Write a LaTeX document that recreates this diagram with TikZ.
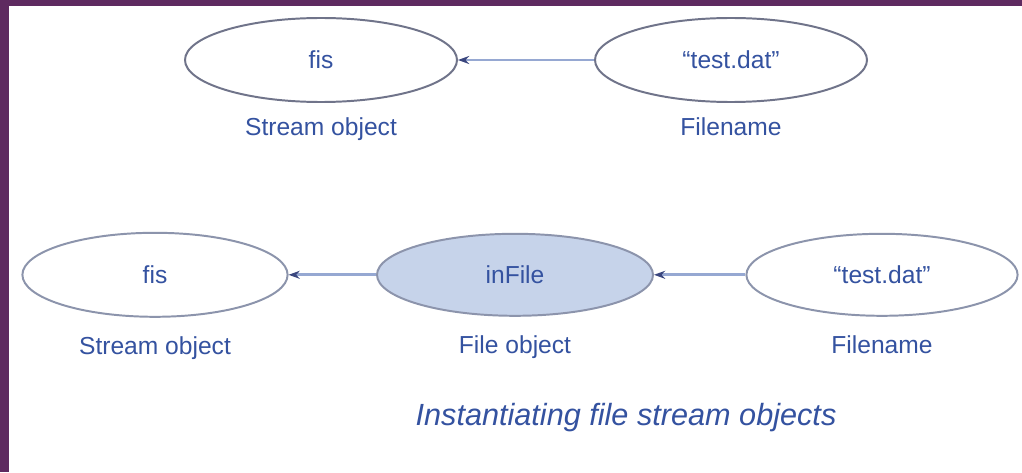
\documentclass[tikz,border=0pt]{standalone}
\usepackage{fontspec}
\setmainfont{Liberation Sans}
\usetikzlibrary{shapes.geometric, arrows.meta, positioning}
\definecolor{framepurple}{RGB}{94, 42, 96}
\definecolor{textblue}{RGB}{52, 82, 160}
\definecolor{rimgray}{RGB}{112, 116, 138}
\definecolor{rimlight}{RGB}{140, 148, 172}
\definecolor{objfill}{RGB}{198, 211, 234}
\definecolor{linkblue}{RGB}{150, 168, 210}
\definecolor{tipblue}{RGB}{58, 70, 126}

\begin{document}
\begin{tikzpicture}[
            obj/.style={ellipse, draw=rimgray, line width=1.4pt, minimum width=6.8cm, minimum height=2.1cm, inner sep=0pt, text=textblue, font=\fontsize{17.5}{21}\selectfont},
            role/.style={text=textblue, font=\fontsize{17.5}{21}\selectfont},
            link/.style={draw=linkblue, line width=2pt, -{Stealth[length=0.28cm, width=0.2cm, color=tipblue]}}
        ]
            % frame
            \useasboundingbox (0,0) rectangle (25.55,11.8);
            \fill[white] (0,0) rectangle (25.55,11.8);
            \fill[framepurple] (0,0) rectangle (0.225,11.8);
            \fill[framepurple] (0,11.65) rectangle (25.55,11.8);

            % TOP ROW
            \node[obj] (fisA) at (8.025,10.3) {fis};
            \node[role, below=0.25cm of fisA] {Stream object};

            \node[obj] (nameA) at (18.275,10.3) {``test.dat''};
            \node[role, below=0.25cm of nameA] {Filename};

            % BOTTOM ROW
            \node[obj, draw=rimlight, minimum width=6.63cm] (fisB) at (3.875,4.93) {fis};
            \node[role, below=0.35cm of fisB] {Stream object};

            \node[obj, draw=rimlight, fill=objfill, minimum width=6.9cm, minimum height=2.05cm] (infile) at (12.875,4.93) {inFile};
            \node[role, below=0.35cm of infile] {File object};

            \node[obj, draw=rimlight, minimum width=6.78cm, minimum height=2.05cm] (nameB) at (22.05,4.93) {``test.dat''};
            \node[role, below=0.35cm of nameB] {Filename};

            % Links
            \draw[link] (nameA) -- (fisA);
            \draw[link] (infile) -- (fisB);
            \draw[link] (nameB) -- (infile);

            % caption
            \node[text=textblue, font=\fontsize{21.8}{26}\selectfont\itshape] (caption) at (15.65,1.35) {Instantiating file stream objects};
        \end{tikzpicture}
\end{document}
